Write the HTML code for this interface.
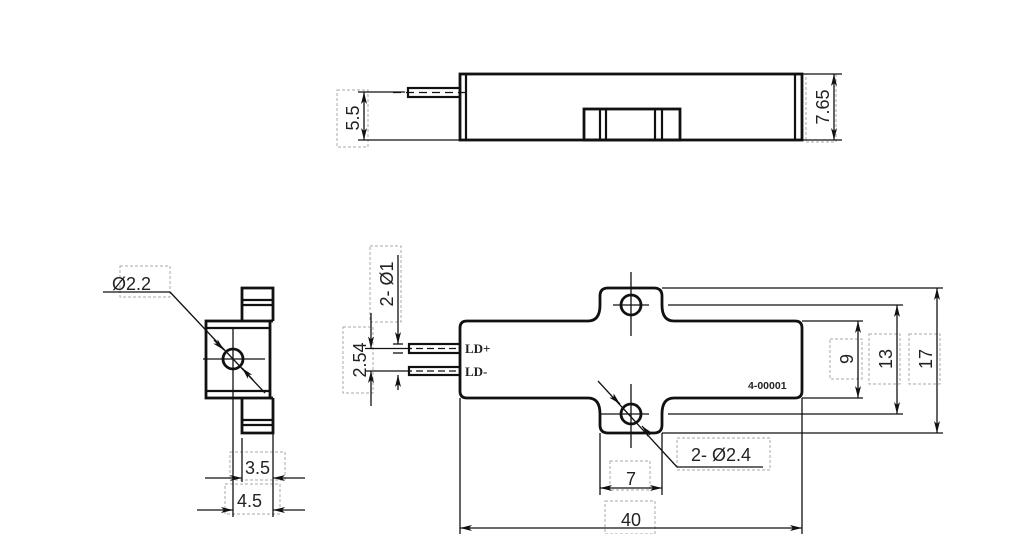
<!DOCTYPE html>
<html><head><meta charset="utf-8"><style>
html,body{margin:0;padding:0;background:#fff;width:1012px;height:534px;overflow:hidden}
svg{display:block}
text{font-family:"Liberation Sans",sans-serif;fill:#222}
</style></head><body>
<svg width="1012" height="534" viewBox="0 0 1012 534" xmlns="http://www.w3.org/2000/svg">
<defs>
<marker id="a" viewBox="0 0 12 6" refX="12" refY="3" markerWidth="12" markerHeight="6" orient="auto-start-reverse" markerUnits="userSpaceOnUse"><path d="M0,0 L12,3 L0,6 L3,3 z" fill="#111"/></marker>
</defs>
<g fill="none" stroke="#aaa" stroke-width="1" stroke-dasharray="3,2">
<rect x="337" y="90" width="31" height="57"/>
<rect x="806" y="74" width="30" height="68"/>
<rect x="370" y="246" width="31" height="76"/>
<rect x="343" y="327" width="30" height="66"/>
<rect x="677" y="438" width="93" height="32"/>
<rect x="610" y="461" width="40" height="29"/>
<rect x="605" y="501" width="50" height="33"/>
<rect x="830" y="339" width="32" height="40"/>
<rect x="869" y="334" width="31" height="50"/>
<rect x="909" y="334" width="31" height="50"/>
<rect x="120" y="266" width="50" height="31"/>
<rect x="230" y="452" width="55" height="28"/>
<rect x="225" y="484" width="55" height="30"/>
</g>
<!-- top view -->
<g stroke="#111" fill="none">
<rect x="460" y="74" width="342" height="66" stroke-width="2.8"/>
<line x1="466" y1="74" x2="466" y2="140" stroke-width="2.2"/>
<line x1="795" y1="74" x2="795" y2="140" stroke-width="2.2"/>
<rect x="408" y="88" width="52" height="9" stroke-width="2.2"/>
<line x1="393" y1="92.5" x2="470" y2="92.5" stroke-width="1.3" stroke-dasharray="8,5"/>
<rect x="584" y="109" width="96" height="31" stroke-width="2.8"/>
<line x1="600" y1="109" x2="600" y2="140" stroke-width="2.2"/>
<line x1="606" y1="109" x2="606" y2="140" stroke-width="2.2"/>
<line x1="655" y1="109" x2="655" y2="140" stroke-width="2.2"/>
<line x1="662" y1="109" x2="662" y2="140" stroke-width="2.2"/>
<g stroke-width="1.3">
<line x1="358" y1="92" x2="405" y2="92"/>
<line x1="358" y1="140" x2="460" y2="140"/>
<line x1="364" y1="92" x2="364" y2="140" marker-start="url(#a)" marker-end="url(#a)"/>
<line x1="802" y1="74" x2="842" y2="74"/>
<line x1="802" y1="140" x2="842" y2="140"/>
<line x1="834" y1="74" x2="834" y2="140" marker-start="url(#a)" marker-end="url(#a)"/>
</g>
</g>
<text transform="translate(359,118) rotate(-90)" font-size="18" text-anchor="middle">5.5</text>
<text transform="translate(829,107) rotate(-90)" font-size="18" text-anchor="middle">7.65</text>
<!-- front view -->
<g stroke="#111" fill="none">
<path d="M467,321 H588 Q600,321 600,305 V296 Q600,288 608,288 H654 Q662,288 662,296 V305 Q662,321 674,321 H795 Q802,321 802,328 V391 Q802,398 795,398 H674 Q662,398 662,414 V425 Q662,433 654,433 H608 Q600,433 600,425 V414 Q600,398 588,398 H467 Q460,398 460,391 V328 Q460,321 467,321 Z" stroke-width="2.8"/>
<circle cx="631" cy="305" r="10" stroke-width="2.8"/>
<circle cx="631" cy="414" r="10" stroke-width="2.8"/>
<g stroke-width="1.3">
<line x1="631" y1="272" x2="631" y2="336"/>
<line x1="613" y1="305" x2="649" y2="305"/>
<line x1="631" y1="384" x2="631" y2="448"/>
<line x1="600" y1="414" x2="649" y2="414"/>
</g>
<rect x="409" y="344" width="51" height="9" stroke-width="2.2"/>
<rect x="409" y="367" width="51" height="8" stroke-width="2.2"/>
<g stroke-width="1.3">
<line x1="405" y1="348.5" x2="460" y2="348.5" stroke-dasharray="7,4"/>
<line x1="405" y1="371" x2="460" y2="371" stroke-dasharray="7,4"/>
<line x1="365" y1="348.5" x2="405" y2="348.5"/>
<line x1="365" y1="371" x2="405" y2="371"/>
<line x1="371" y1="313" x2="371" y2="348.5" marker-end="url(#a)"/>
<line x1="371" y1="406" x2="371" y2="371" marker-end="url(#a)"/>
<line x1="398" y1="255" x2="398" y2="344" marker-end="url(#a)"/>
<line x1="398" y1="390" x2="398" y2="375" marker-end="url(#a)"/>
<line x1="393" y1="344" x2="403" y2="344"/><line x1="393" y1="353" x2="403" y2="353"/>
<line x1="598" y1="381" x2="677" y2="467"/>
<line x1="677" y1="467" x2="763" y2="467"/>
<path d="M613,397 L620,404" marker-end="url(#a)"/>
<path d="M650,435 L642,426" marker-end="url(#a)"/>
<line x1="600" y1="433" x2="600" y2="495"/>
<line x1="662" y1="433" x2="662" y2="495"/>
<line x1="600" y1="488" x2="662" y2="488" marker-start="url(#a)" marker-end="url(#a)"/>
<line x1="460" y1="398" x2="460" y2="534"/>
<line x1="802" y1="398" x2="802" y2="534"/>
<line x1="460" y1="528" x2="802" y2="528" marker-start="url(#a)" marker-end="url(#a)"/>
<line x1="662" y1="288" x2="943" y2="288"/>
<line x1="668" y1="305" x2="903" y2="305"/>
<line x1="802" y1="321" x2="863" y2="321"/>
<line x1="802" y1="398" x2="863" y2="398"/>
<line x1="668" y1="414" x2="903" y2="414"/>
<line x1="662" y1="433" x2="943" y2="433"/>
<line x1="858" y1="321" x2="858" y2="398" marker-start="url(#a)" marker-end="url(#a)"/>
<line x1="897" y1="305" x2="897" y2="414" marker-start="url(#a)" marker-end="url(#a)"/>
<line x1="937" y1="288" x2="937" y2="433" marker-start="url(#a)" marker-end="url(#a)"/>
</g>
</g>
<text x="465" y="353" font-size="13" font-weight="bold" style="font-family:'Liberation Serif',serif">LD+</text>
<text x="465" y="376" font-size="13" font-weight="bold" style="font-family:'Liberation Serif',serif">LD-</text>
<text x="748" y="389" font-size="10.5" font-weight="bold">4-00001</text>
<text transform="translate(366,360) rotate(-90)" font-size="18" text-anchor="middle">2.54</text>
<text transform="translate(393,284) rotate(-90)" font-size="18" text-anchor="middle">2- Ø1</text>
<text x="691" y="461" font-size="18">2- Ø2.4</text>
<text x="631" y="485" font-size="18" text-anchor="middle">7</text>
<text x="631" y="526" font-size="18" text-anchor="middle">40</text>
<text transform="translate(853,359) rotate(-90)" font-size="18" text-anchor="middle">9</text>
<text transform="translate(892,359) rotate(-90)" font-size="18" text-anchor="middle">13</text>
<text transform="translate(932,359) rotate(-90)" font-size="18" text-anchor="middle">17</text>
<!-- side view -->
<g stroke="#111" fill="none">
<rect x="206" y="321" width="64" height="77" stroke-width="2.8"/>
<line x1="206" y1="328" x2="270" y2="328" stroke-width="2.2"/>
<line x1="206" y1="391" x2="270" y2="391" stroke-width="2.2"/>
<path d="M242,321 V288 H273 V321" stroke-width="2.8"/>
<line x1="242" y1="300" x2="273" y2="300" stroke-width="2.2"/>
<line x1="242" y1="305" x2="273" y2="305" stroke-width="2.2"/>
<path d="M242,398 V433 H273 V398" stroke-width="2.8"/>
<line x1="242" y1="420" x2="273" y2="420" stroke-width="2.2"/>
<line x1="242" y1="425" x2="273" y2="425" stroke-width="2.2"/>
<line x1="270" y1="321" x2="273" y2="321" stroke-width="2.8"/>
<line x1="270" y1="398" x2="273" y2="398" stroke-width="2.8"/>
<circle cx="233" cy="359" r="10" stroke-width="2.8"/>
<g stroke-width="1.3">
<line x1="203" y1="359" x2="265" y2="359"/>
<line x1="233" y1="328" x2="233" y2="398"/>
<line x1="103" y1="292" x2="170" y2="292"/>
<line x1="170" y1="292" x2="265" y2="393"/>
<path d="M214,340 L224,350" marker-end="url(#a)"/>
<path d="M253,380 L242,368" marker-end="url(#a)"/>
<line x1="242" y1="438" x2="242" y2="482"/>
<line x1="273" y1="433" x2="273" y2="517"/>
<line x1="233" y1="398" x2="233" y2="517"/>
<line x1="205" y1="478" x2="242" y2="478" marker-end="url(#a)"/>
<line x1="305" y1="478" x2="273" y2="478" marker-end="url(#a)"/>
<line x1="197" y1="510" x2="233" y2="510" marker-end="url(#a)"/>
<line x1="305" y1="510" x2="273" y2="510" marker-end="url(#a)"/>
</g>
</g>
<text x="112" y="290" font-size="18">Ø2.2</text>
<text x="245" y="474" font-size="18">3.5</text>
<text x="237" y="507" font-size="18">4.5</text>
</svg>
</body></html>
